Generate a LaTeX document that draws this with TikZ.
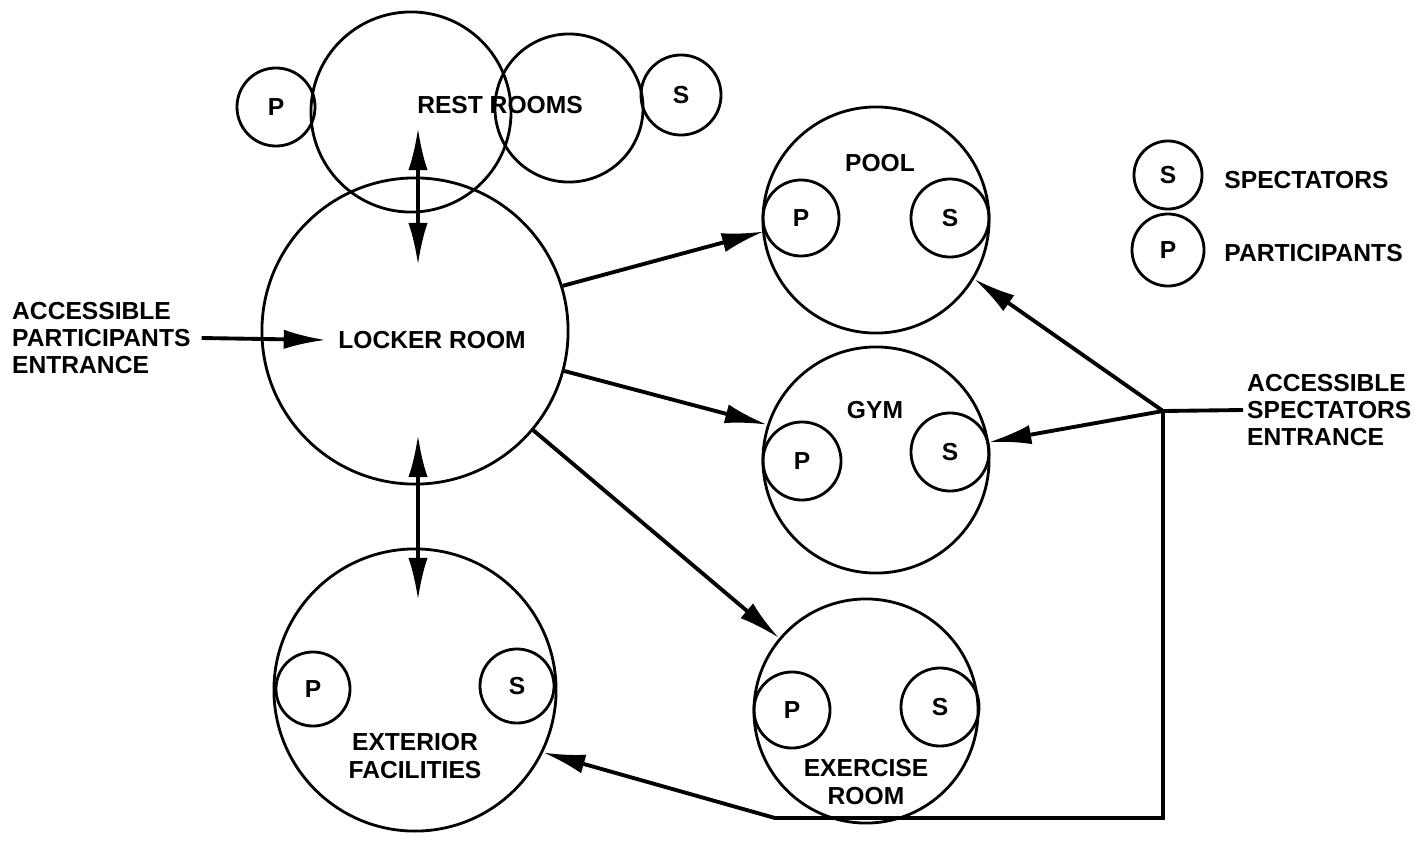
\documentclass[tikz,border=0pt]{standalone}
\usepackage{fontspec}
\setmainfont{Liberation Sans}
\usetikzlibrary{arrows.meta}

\begin{document}
\begin{tikzpicture}[>={Latex[length=12pt,width=5.5pt]},x=0.01cm,y=-0.01cm,
    font=\fontsize{7}{7.7}\selectfont\bfseries,
    room/.style={circle,draw,line width=0.8pt,minimum size=#1,inner sep=0pt},
    flow/.style={line width=1.1pt}]

    \useasboundingbox (0,0) rectangle (1421,848);

    % rest rooms
    \node[room=2.0cm] (RA) at (411,112) {};
    \node[room=1.48cm] (RB) at (569,108) {};
    \node[room=0.78cm] (RP) at (276,107) {P};
    \node[room=0.80cm] (RS) at (681,95) {S};
    \node (RT) at (500,105) {REST ROOMS};

    % locker room
    \node[room=3.06cm] (LR) at (415,331) {};
    \node (LT) at (432,340) {LOCKER ROOM};

    \node[room=2.26cm] (PO) at (876,220) {};
    \node (POT) at (880,163) {POOL};
    \node[room=0.76cm] (POP) at (801,218) {P};
    \node[room=0.78cm] (POS) at (950,218) {S};

    \node[room=2.26cm] (GY) at (876,460) {};
    \node (GYT) at (875,410) {GYM};
    \node[room=0.78cm] (GYP) at (802,461) {P};
    \node[room=0.78cm] (GYS) at (950,452) {S};

    \node[room=2.24cm] (EX) at (866,711) {};
    \node[room=0.76cm] (EXP) at (792,710) {P};
    \node[room=0.78cm] (EXS) at (940,707) {S};
    \node[align=center] (EXT) at (866,782) {EXERCISE\\ROOM};

    \node[room=2.82cm] (EF) at (415,690) {};
    \node[room=0.74cm] (EFP) at (313,689) {P};
    \node[room=0.74cm] (EFS) at (517,686) {S};
    \node[align=center] (EFT) at (415,756) {EXTERIOR\\FACILITIES};

    % legend
    \node[room=0.68cm] (LS) at (1168,175) {S};
    \node[room=0.72cm] (LP) at (1168,250) {P};
    \node[anchor=west] (LST) at (1212,180) {SPECTATORS};
    \node[anchor=west] (LPT) at (1212,253) {PARTICIPANTS};

    % entrances
    \node[anchor=west,align=left,inner sep=1pt] (PE) at (8,338) {ACCESSIBLE\\PARTICIPANTS\\ENTRANCE};
    \node[anchor=west,align=left,inner sep=1pt] (SE) at (1243,410) {ACCESSIBLE\\SPECTATORS\\ENTRANCE};
    \coordinate (J) at (1163,411);
    \coordinate (JB) at (1163,818);
    \coordinate (BL) at (775,818);
    \coordinate (RU) at (418,128);
    \coordinate (RD) at (418,265);
    \coordinate (EU) at (418,435);
    \coordinate (ED) at (418,600);

    \draw[flow,->] ([xshift=2pt]PE.east) -- (LT.west);
    \draw[flow,<->] (RU) -- (RD);
    \draw[flow,<->] (EU) -- (ED);
    \draw[flow,->] (LR.17) -- (POP.200);
    \draw[flow,->] (LR.-15) -- (GY.162);
    \draw[flow,->] (LR.-40) -- (EX.140);

    \draw[flow] (SE.west) -- (J);
    \draw[flow,->] (J) -- (PO.-31);
    \draw[flow,->] (J) -- (GY.9);
    \draw[flow,->] (J) -- (JB) -- (BL) -- (EF.-26);

\end{tikzpicture}
\end{document}
